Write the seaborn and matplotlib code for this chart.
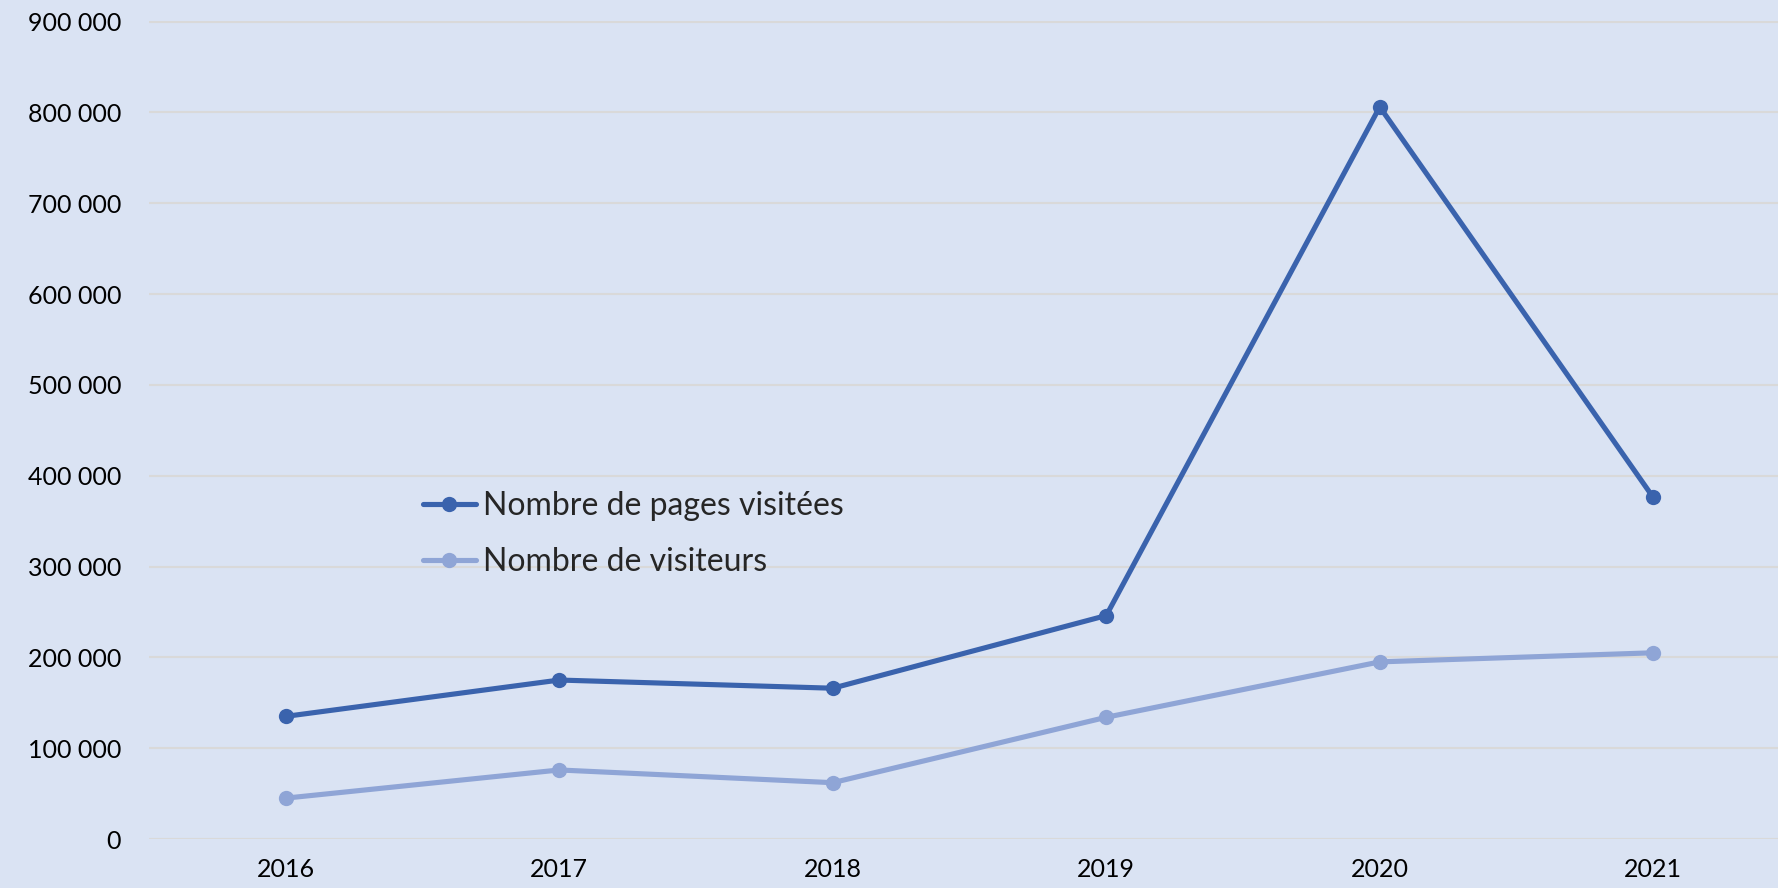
import matplotlib
matplotlib.use("Agg")
import matplotlib.pyplot as plt
import matplotlib.ticker as mticker
import seaborn as sns
import pandas as pd

years = ["2016", "2017", "2018", "2019", "2020", "2021"]
pages = [135000, 175000, 166000, 246000, 806000, 376000]
visiteurs = [45000, 76000, 62000, 134000, 195000, 205000]
series_names = ["Nombre de pages visitées", "Nombre de visiteurs"]
y_ticks = [0, 100000, 200000, 300000, 400000, 500000, 600000, 700000, 800000, 900000]

bg = "#DAE3F3"
colors = ["#3A63AD", "#8FA5D6"]

df = pd.DataFrame({
    "annee": years * 2,
    "valeur": pages + visiteurs,
    "serie": [series_names[0]] * len(years) + [series_names[1]] * len(years),
})

sns.set_theme(style="white")
plt.rcParams["font.family"] = ["Lato", "DejaVu Sans"]

fig = plt.figure(figsize=(17.78, 8.88), dpi=100, facecolor=bg)
ax = fig.add_axes([149 / 1778, 49 / 888, 1641 / 1778, (839 - 21.5) / 888])
ax.set_facecolor(bg)

sns.lineplot(
    data=df, x="annee", y="valeur", hue="serie", palette=colors,
    marker="o", markersize=11, markeredgewidth=0, linewidth=3.7,
    legend=False, ax=ax, sort=False,
)

ax.set_xlim(-0.5, len(years) - 0.5)
ax.set_ylim(0, 900000)
ax.set_yticks(y_ticks)
ax.yaxis.set_major_formatter(
    mticker.FuncFormatter(lambda v, p: f"{int(v):,}".replace(",", " "))
)
ax.grid(axis="y", color="#D9D9D9", linewidth=1.5)
ax.set_axisbelow(True)
for s in ax.spines.values():
    s.set_visible(False)
ax.tick_params(axis="both", length=0, labelsize=18, colors="black")
ax.tick_params(axis="y", pad=20)
ax.tick_params(axis="x", pad=14)
ax.set_xlabel("")
ax.set_ylabel("")

ax.legend(
    handles=ax.lines[:2], labels=series_names,
    loc="center left", bbox_to_anchor=(423 / 1778, 1 - 534 / 888),
    bbox_transform=fig.transFigure, frameon=False, fontsize=23,
    handlelength=1.65, handletextpad=0.22, labelspacing=0.82,
    borderpad=0, borderaxespad=0,
)

fig.savefig("out.png", dpi=100, facecolor=bg)
